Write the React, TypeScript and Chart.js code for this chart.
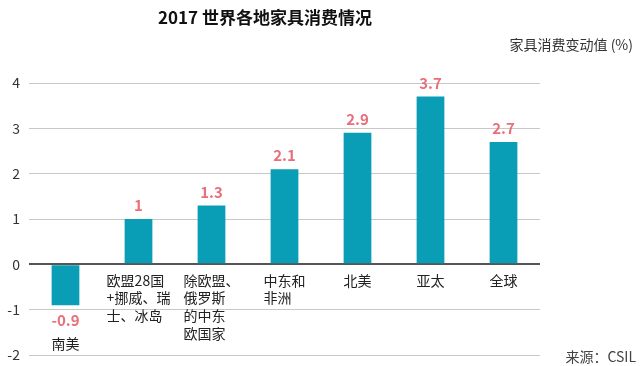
import React, { useEffect, useRef } from "react";
import { Chart, registerables } from "chart.js";

Chart.register(...registerables);

const titleText = "2017 世界各地家具消费情况";
const axisTitle = "家具消费变动值 (%)";
const sourceText = "来源：CSIL";
const categoryLines: string[][] = [
  ["南美"],
  ["欧盟28国", "+挪威、瑞", "士、冰岛"],
  ["除欧盟、", "俄罗斯", "的中东", "欧国家"],
  ["中东和", "非洲"],
  ["北美"],
  ["亚太"],
  ["全球"],
];
const values = [-0.9, 1, 1.3, 2.1, 2.9, 3.7, 2.7];
const valueLabels = ["-0.9", "1", "1.3", "2.1", "2.9", "3.7", "2.7"];
const yMin = -2;
const yMax = 4;
const yStep = 1;

const FONT = '"Noto Sans CJK SC", "Noto Sans", sans-serif';
const BAR = "#0a9db6";
const RED = "#e8707a";

const labelPlugin = {
  id: "customText",
  afterDraw(chart: any) {
    const ctx = chart.ctx;
    const meta = chart.getDatasetMeta(0);
    ctx.save();
    // title
    ctx.fillStyle = "#111";
    ctx.font = `bold 17px ${FONT}`;
    ctx.textAlign = "center";
    ctx.textBaseline = "middle";
    ctx.fillText(titleText, 265, 18);
    // axis title
    ctx.font = `14px ${FONT}`;
    ctx.fillStyle = "#333";
    ctx.textAlign = "right";
    ctx.fillText(axisTitle, 633, 45);
    // source
    ctx.fillStyle = "#444";
    ctx.fillText(sourceText, 636, 357);

    meta.data.forEach((el: any, i: number) => {
      const v = values[i];
      const x = el.x;
      ctx.font = `bold 15px ${FONT}`;
      ctx.fillStyle = RED;
      ctx.textAlign = "center";
      let catTop: number;
      if (v >= 0) {
        ctx.textBaseline = "bottom";
        ctx.fillText(valueLabels[i], x, el.y - 6);
        catTop = el.base + 10;
      } else {
        ctx.textBaseline = "top";
        ctx.fillText(valueLabels[i], x, el.y + 8);
        catTop = el.y + 32;
      }
      ctx.font = `14px ${FONT}`;
      ctx.fillStyle = "#222";
      ctx.textBaseline = "top";
      ctx.textAlign = "left";
      const lines = categoryLines[i];
      const w = Math.max(...lines.map((l) => ctx.measureText(l).width));
      const left = x - w / 2;
      lines.forEach((l, j) => ctx.fillText(l, left, catTop + j * 17.7));
    });
    ctx.restore();
  },
};

export default function App() {
  const ref = useRef<HTMLCanvasElement>(null);
  useEffect(() => {
    const chart = new Chart(ref.current!, {
      type: "bar",
      data: {
        labels: categoryLines.map((l) => l.join("")),
        datasets: [
          {
            data: values,
            backgroundColor: BAR,
            barPercentage: 0.38,
            categoryPercentage: 1,
          },
        ],
      },
      options: {
        responsive: false,
        animation: false,
        devicePixelRatio: 1,
        layout: { padding: { top: 83, bottom: 11, right: 100, left: 0 } },
        plugins: { legend: { display: false }, tooltip: { enabled: false } },
        scales: {
          x: { display: false },
          y: {
            min: yMin,
            max: yMax,
            afterFit: (scale: any) => {
              scale.width = 29;
              scale.paddingTop = 0;
              scale.paddingBottom = 0;
            },
            ticks: {
              stepSize: yStep,
              padding: 9,
              color: "#333",
              font: { family: FONT, size: 14 },
            },
            border: { display: false },
            grid: {
              drawTicks: false,
              color: (c: any) => (c.tick && c.tick.value === 0 ? "#555" : "#c8c8c8"),
              lineWidth: (c: any) => (c.tick && c.tick.value === 0 ? 2 : 1),
            },
          },
        },
      },
      plugins: [labelPlugin],
    });
    return () => chart.destroy();
  }, []);
  return (
    <div style={{ position: "absolute", left: 0, top: 0, width: 640, height: 366, background: "#fff" }}>
      <canvas ref={ref} width={640} height={366} />
    </div>
  );
}
